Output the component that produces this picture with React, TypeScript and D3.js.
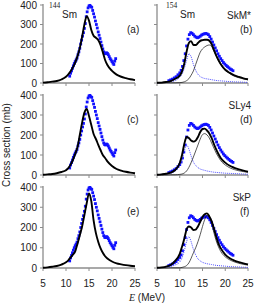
import React from 'react';
import * as d3 from 'd3';

// Energy grid shared by the calculated curves (MeV)
const E_GRID = [5, 6, 7, 8, 9, 10, 10.5, 11, 11.5, 12, 12.5, 13, 13.5, 14, 14.5, 15, 15.5, 16, 16.5, 17, 17.5, 18, 18.5, 19, 20, 21, 22, 23, 24, 25];

// 144Sm calculations (thick black)
const A_TOTAL = [2, 4, 7, 10, 18, 32, 44, 60, 80, 105, 138, 180, 237, 300, 343, 320, 272, 242, 232, 220, 195, 158, 118, 92, 62, 43, 32, 25, 19, 15];
const C_TOTAL = [1, 3, 5, 9, 15, 24, 34, 52, 75, 105, 140, 200, 262, 312, 330, 295, 250, 205, 180, 152, 125, 100, 85, 68, 45, 30, 22, 16, 12, 9];
const E_TOTAL = [1, 3, 6, 10, 17, 28, 38, 52, 66, 82, 120, 162, 205, 262, 320, 368, 330, 235, 172, 130, 98, 75, 58, 47, 32, 23, 18, 14, 11, 9];

// 154Sm calculations: total (thick), K=0 component (thin black), K=1 component (blue dotted)
const B_TOTAL = [1, 2, 5, 10, 22, 38, 60, 100, 160, 205, 215, 195, 195, 205, 216, 220, 222, 222, 217, 200, 170, 142, 118, 98, 68, 52, 39, 31, 24, 19];
const B_THIN = [0, 0, 1, 1, 1, 2, 3, 6, 12, 22, 40, 62, 95, 128, 158, 175, 185, 192, 195, 188, 165, 140, 115, 95, 65, 48, 35, 27, 21, 16];
const B_DOT = [1, 2, 4, 7, 12, 30, 45, 75, 115, 150, 135, 95, 65, 45, 33, 27, 23, 21, 19, 17, 15, 13, 12, 11, 9, 7, 6, 5, 4, 3];

const D_TOTAL = [1, 3, 6, 12, 25, 60, 100, 155, 190, 185, 172, 167, 172, 190, 215, 230, 232, 222, 208, 185, 155, 128, 105, 85, 62, 46, 36, 28, 22, 17];
const D_THIN = [0, 0, 0, 1, 1, 3, 5, 10, 20, 38, 62, 90, 120, 150, 180, 202, 207, 200, 185, 160, 135, 110, 90, 72, 50, 36, 27, 21, 17, 13];
const D_DOT = [1, 3, 5, 10, 22, 48, 75, 120, 152, 130, 95, 65, 48, 37, 30, 26, 23, 20, 18, 16, 14, 13, 12, 11, 9, 8, 7, 6, 5, 4];

const F_TOTAL = [1, 3, 7, 15, 35, 70, 105, 145, 190, 205, 200, 188, 190, 205, 228, 252, 265, 270, 255, 232, 195, 155, 120, 98, 66, 48, 37, 29, 23, 18];
const F_THIN = [0, 0, 0, 1, 1, 1, 3, 6, 12, 25, 48, 75, 100, 130, 165, 205, 240, 260, 250, 222, 175, 135, 105, 82, 55, 40, 30, 23, 18, 14];
const F_DOT = [1, 2, 4, 8, 15, 30, 50, 85, 130, 155, 130, 92, 65, 45, 35, 28, 24, 21, 19, 17, 15, 13, 12, 11, 9, 7, 6, 5, 4, 3];

// Experimental data
const EXP144_E = [10.8, 11.0, 11.2, 11.4, 11.6, 11.8, 12.0, 12.2, 12.4, 12.6, 12.8, 13.0, 13.2, 13.4, 13.6, 13.8, 14.0, 14.2, 14.4, 14.6, 14.8, 15.0, 15.2, 15.4, 15.6, 15.8, 16.0, 16.2, 16.4, 16.6, 16.8, 17.0, 17.2, 17.4, 17.6, 17.8, 18.0, 18.2, 18.4, 18.6, 18.8, 19.0, 19.2, 19.4, 19.6, 19.8, 20.0, 20.2, 20.4, 20.6, 20.8];
const EXP144_V = [35, 50, 62, 75, 88, 100, 110, 118, 128, 145, 160, 178, 200, 220, 240, 258, 280, 305, 340, 365, 385, 395, 398, 392, 388, 372, 355, 338, 318, 300, 282, 262, 245, 228, 210, 192, 175, 160, 152, 150, 155, 152, 145, 135, 125, 118, 110, 102, 95, 112, 125];

const EXP154_E = [7.6, 8.0, 8.4, 8.8, 9.2, 9.6, 10.0, 10.3, 10.6, 10.9, 11.2, 11.5, 11.8, 12.1, 12.4, 12.7, 13.0, 13.3, 13.6, 13.9, 14.2, 14.5, 14.8, 15.1, 15.4, 15.7, 16.0, 16.3, 16.6, 16.9, 17.2, 17.5, 17.8, 18.1, 18.4, 18.7, 19.0, 19.3, 19.6, 19.9, 20.2, 20.5, 20.8, 21.1, 21.4, 21.7];
const EXP154_V = [12, 16, 20, 26, 32, 42, 52, 65, 85, 115, 150, 190, 225, 248, 258, 255, 248, 240, 235, 232, 235, 240, 246, 250, 252, 254, 252, 248, 238, 225, 210, 195, 180, 165, 150, 137, 125, 115, 105, 97, 90, 84, 78, 72, 68, 63];

const X_TICKS = [5, 10, 15, 20, 25];
const Y_TICKS = [0, 100, 200, 300, 400];
const PANEL_LETTERS = ['(a)', '(b)', '(c)', '(d)', '(e)', '(f)'];
const FORCE_NAMES = ['SkM*', 'SLy4', 'SkP'];

const SANS = '"Liberation Sans", Arial, Helvetica, sans-serif';
const SERIF = '"Liberation Serif", "Times New Roman", serif';
const AXIS_COLOR = '#8c8c8c';
const BLUE = '#1010ff';

const COLS = [
  { x0: 43, x1: 135 },
  { x0: 157, x1: 248 },
];
const ROWS = [
  { top: 5, bot: 83 },
  { top: 95, bot: 175 },
  { top: 187, bot: 268 },
];

type PanelProps = {
  col: number;
  row: number;
  total: number[];
  thin?: number[];
  dot?: number[];
  expE: number[];
  expV: number[];
};

function Panel({ col, row, total, thin, dot, expE, expV }: PanelProps) {
  const { x0, x1 } = COLS[col];
  const { top, bot } = ROWS[row];
  const sx = d3.scaleLinear().domain([5, 25]).range([x0, x1]);
  const sy = d3.scaleLinear().domain([0, 400]).range([bot, top]);
  const line = d3
    .line<number>()
    .x((_, i) => sx(E_GRID[i]))
    .y((v) => sy(v))
    .curve(d3.curveMonotoneX);
  const letter = PANEL_LETTERS[row * 2 + col];
  const sq = 2.8;
  return (
    <g>
      {/* axes */}
      <line x1={x0} x2={x0} y1={top - 1} y2={bot} stroke={AXIS_COLOR} strokeWidth={1.3} />
      <line x1={x0} x2={x1} y1={bot} y2={bot} stroke={AXIS_COLOR} strokeWidth={1.3} />
      {Y_TICKS.map((t) => (
        <line key={'yt' + t} x1={x0 - 3} x2={x0} y1={sy(t)} y2={sy(t)} stroke={AXIS_COLOR} strokeWidth={1} />
      ))}
      {X_TICKS.map((t) => (
        <line key={'xt' + t} x1={sx(t)} x2={sx(t)} y1={bot} y2={bot + 3} stroke={AXIS_COLOR} strokeWidth={1} />
      ))}
      {col === 0 &&
        Y_TICKS.map((t) => (
          <text key={'yl' + t} x={x0 - 6} y={sy(t) + 3.5} textAnchor="end" fontSize={10} fontFamily={SANS} fill="#222">
            {t}
          </text>
        ))}
      {row === 2 &&
        X_TICKS.map((t) => (
          <text key={'xl' + t} x={sx(t)} y={287} textAnchor="middle" fontSize={10} fontFamily={SANS} fill="#222">
            {t}
          </text>
        ))}
      {/* experimental points */}
      {expE.map((e, i) => (
        <rect key={'p' + i} x={sx(e) - sq / 2} y={sy(expV[i]) - sq / 2} width={sq} height={sq} fill={BLUE} />
      ))}
      {/* curves */}
      {dot && <path d={line(dot) || ''} fill="none" stroke="#5050ff" strokeWidth={1} strokeDasharray="1,1" />}
      {thin && <path d={line(thin) || ''} fill="none" stroke="#111" strokeWidth={0.7} />}
      <path d={line(total) || ''} fill="none" stroke="#000" strokeWidth={1.9} />
      {/* panel letter */}
      <text x={x1 - 8} y={top + 28} textAnchor="start" fontSize={10} fontFamily={SANS} fill="#222">
        {letter}
      </text>
      {col === 1 && (
        <text x={x1 + 3} y={top + 14} textAnchor="end" fontSize={10} fontFamily={SANS} fill="#222">
          {FORCE_NAMES[row]}
        </text>
      )}
    </g>
  );
}

export default function App() {
  return (
    <svg width={255} height={305} style={{ position: 'fixed', left: 0, top: 0, background: '#fff' }}>
      <rect x={0} y={0} width={255} height={305} fill="#fff" />
      <Panel col={0} row={0} total={A_TOTAL} expE={EXP144_E} expV={EXP144_V} />
      <Panel col={1} row={0} total={B_TOTAL} thin={B_THIN} dot={B_DOT} expE={EXP154_E} expV={EXP154_V} />
      <Panel col={0} row={1} total={C_TOTAL} expE={EXP144_E} expV={EXP144_V} />
      <Panel col={1} row={1} total={D_TOTAL} thin={D_THIN} dot={D_DOT} expE={EXP154_E} expV={EXP154_V} />
      <Panel col={0} row={2} total={E_TOTAL} expE={EXP144_E} expV={EXP144_V} />
      <Panel col={1} row={2} total={F_TOTAL} thin={F_THIN} dot={F_DOT} expE={EXP154_E} expV={EXP154_V} />

      {/* nucleus labels */}
      <text x={49} y={8} fontSize={7.5} fontFamily={SERIF} fill="#222">144</text>
      <text x={62} y={18} fontSize={10} fontFamily={SANS} fill="#222">Sm</text>
      <text x={166} y={8} fontSize={7.5} fontFamily={SERIF} fill="#222">154</text>
      <text x={180} y={18} fontSize={10} fontFamily={SANS} fill="#222">Sm</text>

      {/* axis titles */}
      <text transform="translate(10,145) rotate(-90)" textAnchor="middle" fontSize={10} fontFamily={SANS} fill="#222">
        Cross section (mb)
      </text>
      <text x={147} y={301} textAnchor="middle" fontSize={10} fontFamily={SANS} fill="#222">
        <tspan fontFamily={SERIF} fontStyle="italic">E</tspan>
        <tspan> (MeV)</tspan>
      </text>
    </svg>
  );
}
